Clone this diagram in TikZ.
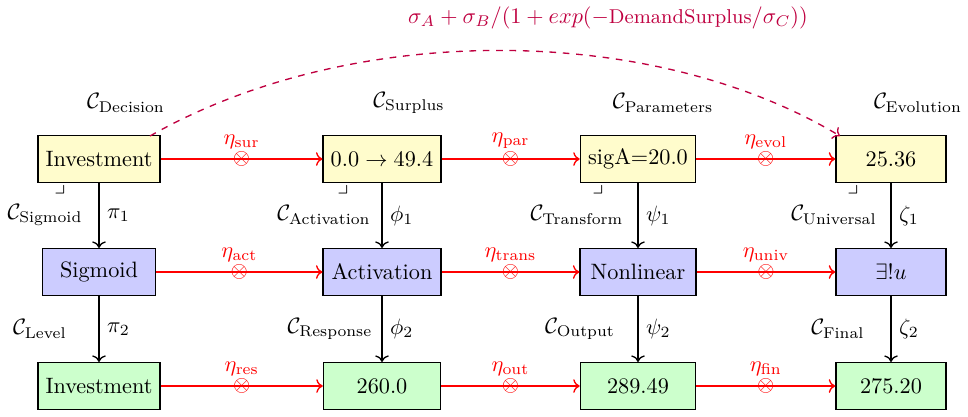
\documentclass[tikz,border=0pt]{standalone}
\usepackage{amsmath,amssymb}
\usetikzlibrary{arrows.meta}

\begin{document}
\begin{tikzpicture}[x=0.158mm,y=-0.158mm,
  box/.style={draw,semithick,minimum height=0.74cm,inner sep=2pt},
  obj/.style={box,fill=yellow!20},
  mid/.style={box,fill=blue!20},
  res/.style={box,fill=green!20},
  vmap/.style={->,semithick},
  hmap/.style={->,red,semithick}]

\useasboundingbox (0,0) rectangle (968,416);

% top row
\node[obj,minimum width=1.93cm] (A1) at (99,159) {Investment};
\node[obj,minimum width=1.86cm] (A2) at (382,159) {$0.0 \to 49.4$};
\node[obj,minimum width=1.82cm] (A3) at (638,159) {sigA=20.0};
\node[obj,minimum width=1.74cm] (A4) at (891,159) {25.36};

% middle row
\node[mid,minimum width=1.79cm] (B1) at (99,272) {Sigmoid};
\node[mid,minimum width=1.86cm] (B2) at (382,272) {Activation};
\node[mid,minimum width=1.83cm] (B3) at (638,272) {Nonlinear};
\node[mid,minimum width=1.74cm] (B4) at (891,272) {$\exists! u$};

% bottom row
\node[res,minimum width=1.93cm] (C1) at (99,386) {Investment};
\node[res,minimum width=1.85cm] (C2) at (382,386) {260.0};
\node[res,minimum width=1.82cm] (C3) at (638,386) {289.49};
\node[res,minimum width=1.74cm] (C4) at (891,386) {275.20};

% category labels
\node (LA1) at (126,103) {$\mathcal{C}_{\text{Decision}}$};
\node (LA2) at (409,103) {$\mathcal{C}_{\text{Surplus}}$};
\node (LA3) at (663,103) {$\mathcal{C}_{\text{Parameters}}$};
\node (LA4) at (918,103) {$\mathcal{C}_{\text{Evolution}}$};

\node (LB1) at (45,215) {$\mathcal{C}_{\text{Sigmoid}}$};
\node (LB2) at (324,215) {$\mathcal{C}_{\text{Activation}}$};
\node (LB3) at (577,215) {$\mathcal{C}_{\text{Transform}}$};
\node (LB4) at (834,215) {$\mathcal{C}_{\text{Universal}}$};

\node (LC1) at (40,329) {$\mathcal{C}_{\text{Level}}$};
\node (LC2) at (330,329) {$\mathcal{C}_{\text{Response}}$};
\node (LC3) at (580,329) {$\mathcal{C}_{\text{Output}}$};
\node (LC4) at (838,329) {$\mathcal{C}_{\text{Final}}$};

\node (K1) at (60,189) {$\lrcorner$};
\node (K2) at (343,189) {$\lrcorner$};
\node (K3) at (598,189) {$\lrcorner$};
\node (K4) at (853,189) {$\lrcorner$};

% vertical maps
\draw[vmap] (A1) -- node[right] {$\pi_1$} (B1);
\draw[vmap] (B1) -- node[right] {$\pi_2$} (C1);
\draw[vmap] (A2) -- node[right] {$\phi_1$} (B2);
\draw[vmap] (B2) -- node[right] {$\phi_2$} (C2);
\draw[vmap] (A3) -- node[right] {$\psi_1$} (B3);
\draw[vmap] (B3) -- node[right] {$\psi_2$} (C3);
\draw[vmap] (A4) -- node[right] {$\zeta_1$} (B4);
\draw[vmap] (B4) -- node[right] {$\zeta_2$} (C4);

% horizontal maps
\draw[hmap] (A1) -- node[inner sep=0pt] {$\otimes$} node[above=1pt] {$\eta_{\text{sur}}$} (A2);
\draw[hmap] (A2) -- node[inner sep=0pt] {$\otimes$} node[above=1pt] {$\eta_{\text{par}}$} (A3);
\draw[hmap] (A3) -- node[inner sep=0pt] {$\otimes$} node[above=1pt] {$\eta_{\text{evol}}$} (A4);
\draw[hmap] (B1) -- node[inner sep=0pt] {$\otimes$} node[above=1pt] {$\eta_{\text{act}}$} (B2);
\draw[hmap] (B2) -- node[inner sep=0pt] {$\otimes$} node[above=1pt] {$\eta_{\text{trans}}$} (B3);
\draw[hmap] (B3) -- node[inner sep=0pt] {$\otimes$} node[above=1pt] {$\eta_{\text{univ}}$} (B4);
\draw[hmap] (C1) -- node[inner sep=0pt] {$\otimes$} node[above=1pt] {$\eta_{\text{res}}$} (C2);
\draw[hmap] (C2) -- node[inner sep=0pt] {$\otimes$} node[above=1pt] {$\eta_{\text{out}}$} (C3);
\draw[hmap] (C3) -- node[inner sep=0pt] {$\otimes$} node[above=1pt] {$\eta_{\text{fin}}$} (C4);

% formula arc
\node[purple] (F) at (608,18) {$\sigma_A + \sigma_B/(1+exp(-\text{\small DemandSurplus}/\sigma_C))$};
\coordinate (S) at (150,136);
\coordinate (T) at (840,136);
\draw[->,dashed,purple,semithick] (S) .. controls (350,22) and (650,22) .. (T);

\end{tikzpicture}
\end{document}
